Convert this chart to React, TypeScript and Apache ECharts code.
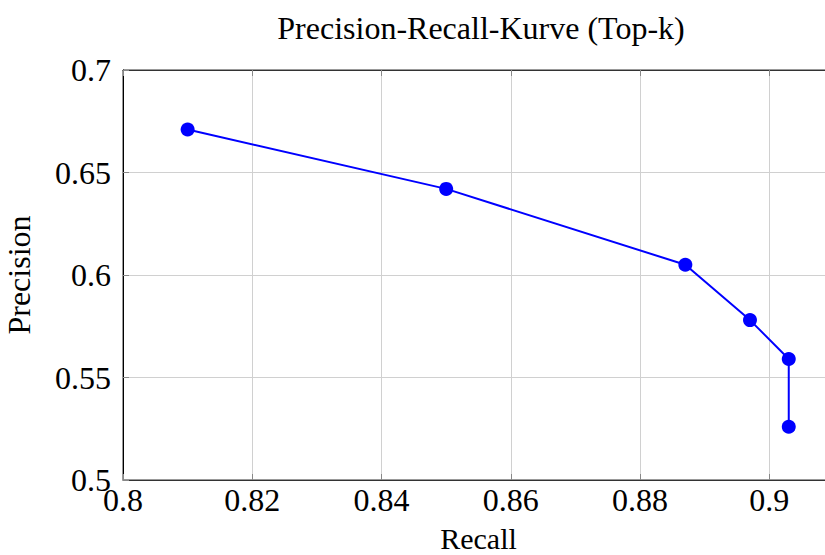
import React, { useEffect, useRef } from "react";
import * as echarts from "echarts";

const recall = [0.81, 0.85, 0.887, 0.897, 0.903, 0.903];
const precision = [0.671, 0.642, 0.605, 0.578, 0.559, 0.526];
const titleText = "Precision-Recall-Kurve (Top-k)";
const xLabel = "Recall";
const yLabel = "Precision";

const FONT = "Liberation Serif";

export default function App() {
  const ref = useRef<HTMLDivElement>(null);
  useEffect(() => {
    if (!ref.current) return;
    const chart = echarts.init(ref.current, undefined, { renderer: "svg" });
    const data = recall.map((r, i) => [r, precision[i]]);
    chart.setOption({
      animation: false,
      backgroundColor: "#ffffff",
      textStyle: { fontFamily: FONT },
      title: {
        text: titleText,
        left: 476,
        textAlign: "center",
        top: 7,
        textStyle: { fontFamily: FONT, fontSize: 32, fontWeight: "normal", color: "#000" },
      },
      grid: {
        left: 123,
        right: -9,
        top: 70,
        bottom: 75,
        outerBoundsMode: "none",
        containLabel: false,
        show: true,
        borderColor: "#333",
        borderWidth: 1,
      },
      xAxis: [
        {
          type: "value",
          min: 0.8,
          max: 0.91,
          interval: 0.02,
          name: xLabel,
          nameLocation: "middle",
          nameGap: 43,
          nameTextStyle: { fontFamily: FONT, fontSize: 30, color: "#000", lineHeight: 30 },
          axisLine: { show: true, lineStyle: { color: "#333" } },
          axisTick: { show: true, inside: true, length: 6, lineStyle: { color: "#888" } },
          axisLabel: {
            fontFamily: FONT,
            fontSize: 32,
            color: "#000",
            margin: 4,
            showMaxLabel: false,
            formatter: (v: number) => String(+v.toFixed(2)),
          },
          splitLine: { show: true, lineStyle: { color: "#d0d0d0", width: 1 } },
        },
        {
          type: "value",
          position: "top",
          min: 0.8,
          max: 0.91,
          interval: 0.02,
          axisLine: { show: true, lineStyle: { color: "#333" } },
          axisTick: { show: true, inside: true, length: 6, lineStyle: { color: "#888" } },
          axisLabel: { show: false },
          splitLine: { show: false },
        },
      ],
      yAxis: {
        type: "value",
        min: 0.5,
        max: 0.7,
        interval: 0.05,
        name: yLabel,
        nameLocation: "middle",
        nameGap: 88,
        nameTextStyle: { fontFamily: FONT, fontSize: 32, color: "#000" },
        axisLine: { show: true, lineStyle: { color: "#000" } },
        axisTick: { show: true, inside: true, length: 6, lineStyle: { color: "#888" } },
        axisLabel: {
          fontFamily: FONT,
          fontSize: 32,
          color: "#000",
          margin: 12,
          formatter: (v: number) => String(+v.toFixed(2)),
        },
        splitLine: { show: true, lineStyle: { color: "#d0d0d0", width: 1 } },
      },
      series: [
        {
          type: "line",
          data,
          xAxisIndex: 0,
          symbol: "circle",
          symbolSize: 14,
          lineStyle: { color: "#0000ff", width: 2 },
          itemStyle: { color: "#0000ff" },
        },
      ],
    });
    return () => chart.dispose();
  }, []);
  return <div ref={ref} style={{ width: 825, height: 555, position: "absolute", left: 0, top: 0 }} />;
}
